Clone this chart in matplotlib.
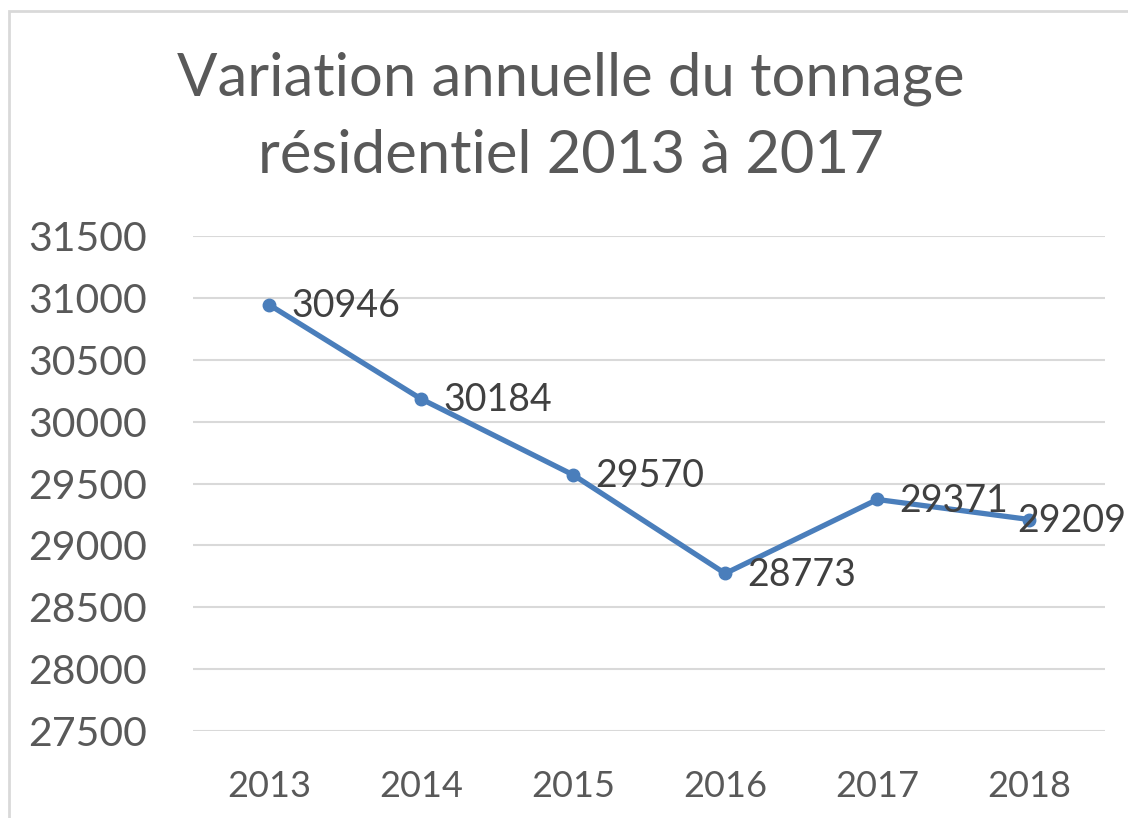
import matplotlib.pyplot as plt
from matplotlib.patches import Rectangle

years = ["2013", "2014", "2015", "2016", "2017", "2018"]
tonnage = [30946, 30184, 29570, 28773, 29371, 29209]
y_ticks = [27500, 28000, 28500, 29000, 29500, 30000, 30500, 31000, 31500]

plt.rcParams["font.family"] = ["Lato", "DejaVu Sans"]

fig = plt.figure(figsize=(11.28, 8.18), dpi=100)
ax = fig.add_axes([0.171, 0.1064, 0.809, 0.605])

# chart frame
fig.patches.append(Rectangle((9 / 1128, -0.05), 1.2, 1 - 11 / 818 + 0.05,
                             transform=fig.transFigure, fill=False,
                             edgecolor="#d9d9d9", linewidth=2))

x = list(range(len(years)))
ax.plot(x, tonnage, color="#4a7ebb", linewidth=3.8, marker="o", markersize=9,
        solid_joinstyle="round")
for xi, v in zip(x, tonnage):
    # last label pushed back inside the chart, as the original does
    dx = 16 if xi < len(years) - 1 else -9
    ax.annotate(str(v), (xi, v), xytext=(dx, -1), textcoords="offset points",
                ha="left", va="center", fontsize=27, color="#404040")

ax.set_xlim(-0.5, len(years) - 0.5)
ax.set_ylim(27500, 31500)
ax.set_yticks(y_ticks)
ax.set_xticks(x)
ax.set_xticklabels(years)
ax.tick_params(axis="y", labelsize=29.5, colors="#595959", length=0, pad=33)
ax.tick_params(axis="x", labelsize=26, colors="#595959", length=0, pad=28)
ax.grid(axis="y", color="#d9d9d9", linewidth=1.5)
ax.set_axisbelow(True)
for s in ax.spines.values():
    s.set_visible(False)

fig.text(0.506, 0.857, "Variation annuelle du tonnage\nrésidentiel 2013 à 2017",
         ha="center", va="center", fontsize=43, color="#595959", linespacing=1.52)

fig.savefig("out.png", dpi=100)
